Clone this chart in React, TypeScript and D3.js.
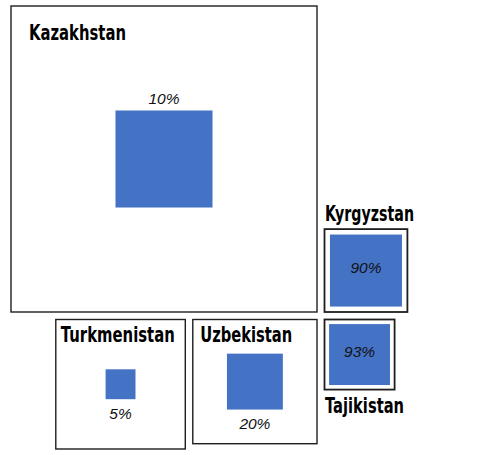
import React, { useLayoutEffect, useRef, useState } from "react";
import * as d3 from "d3";

// Land area (thousand km²) – outer squares
const countries = ["Kazakhstan", "Kyrgyzstan", "Tajikistan", "Turkmenistan", "Uzbekistan"];
const landArea = [2725, 200, 143, 488, 449];
// Mountain share labels
const shareLabels = ["10%", "90%", "93%", "5%", "20%"];
// Area drawn for the blue (mountain) squares, thousand km²
const blueArea = [274, 151, 108, 26, 91];

const BLUE = "#4472C4";
const STROKE = "#1e1e1e";

export default function App() {
  const side = d3.scaleSqrt().domain([0, landArea[0]]).range([0, 306]);
  const s = landArea.map((a) => side(a));
  const b = blueArea.map((a) => side(a));
  const gap = 7.5;
  // condensed label widths (style)
  const nameW = [97, 89, 79, 114, 92];

  const refs = useRef<(SVGTextElement | null)[]>([]);
  const [scales, setScales] = useState<number[]>(countries.map(() => 0.7));
  useLayoutEffect(() => {
    const next = countries.map((_, i) => {
      const el = refs.current[i];
      if (!el) return 0.7;
      const w = el.getComputedTextLength();
      return w > 0 ? nameW[i] / w : 0.7;
    });
    setScales(next);
  }, []);

  // layout
  const kaz = { x: 11, y: 6 };
  const kazR = kaz.x + s[0];
  const kazB = kaz.y + s[0];
  const kyr = { x: kazR + gap, y: kazB - s[1] };
  const row2 = kazB + gap;
  const uzb = { x: kazR - s[4], y: row2 };
  const tur = { x: uzb.x - gap - s[3], y: row2 };
  const taj = { x: kyr.x, y: row2 };
  const pos = [kaz, kyr, taj, tur, uzb];

  const nameFont = {
    fontFamily: "'DejaVu Sans', sans-serif",
    fontWeight: 700,
    fontSize: 21.5,
    fill: "#000",
  } as React.CSSProperties;
  const pctFont = {
    fontFamily: "'Liberation Sans', Arial, sans-serif",
    fontStyle: "italic",
    fontSize: 15.5,
    fill: "#111",
  } as React.CSSProperties;

  const nameXY = [
    [kaz.x + 18, kaz.y + 34],
    [kyr.x + 0.5, kyr.y - 8],
    [taj.x + 0.5, taj.y + s[2] + 23],
    [tur.x + 5, tur.y + 22],
    [uzb.x + 7.5, uzb.y + 22.5],
  ];

  return (
    <svg
      width={484}
      height={455}
      style={{ position: "absolute", left: 0, top: 0, background: "#fff" }}
    >
      {countries.map((c, i) => {
        const p = pos[i];
        const cx = p.x + s[i] / 2;
        const cy = p.y + s[i] / 2;
        const bs = b[i];
        return (
          <g key={c}>
            <rect
              x={p.x}
              y={p.y}
              width={s[i]}
              height={s[i]}
              fill="#fff"
              stroke={STROKE}
              strokeWidth={i === 1 || i === 2 ? 1.8 : 1.4}
            />
            <rect x={cx - bs / 2} y={cy - bs / 2} width={bs} height={bs} fill={BLUE} />
          </g>
        );
      })}

      {/* country names */}
      {countries.map((c, i) => (
        <text
          key={c + "n"}
          ref={(el) => {
            refs.current[i] = el;
          }}
          transform={`translate(${nameXY[i][0]},${nameXY[i][1]}) scale(${scales[i]},1)`}
          style={nameFont}
        >
          {c}
        </text>
      ))}

      {/* percentages */}
      {countries.map((c, i) => {
        const p = pos[i];
        const cx = p.x + s[i] / 2;
        const cy = p.y + s[i] / 2;
        const bs = b[i];
        let y: number;
        if (i === 0) y = cy - bs / 2 - 6;
        else if (i === 1 || i === 2) y = cy + 2.5;
        else y = cy + bs / 2 + 19.5;
        return (
          <text key={c + "p"} x={cx} y={y} textAnchor="middle" style={pctFont}>
            {shareLabels[i]}
          </text>
        );
      })}
    </svg>
  );
}
